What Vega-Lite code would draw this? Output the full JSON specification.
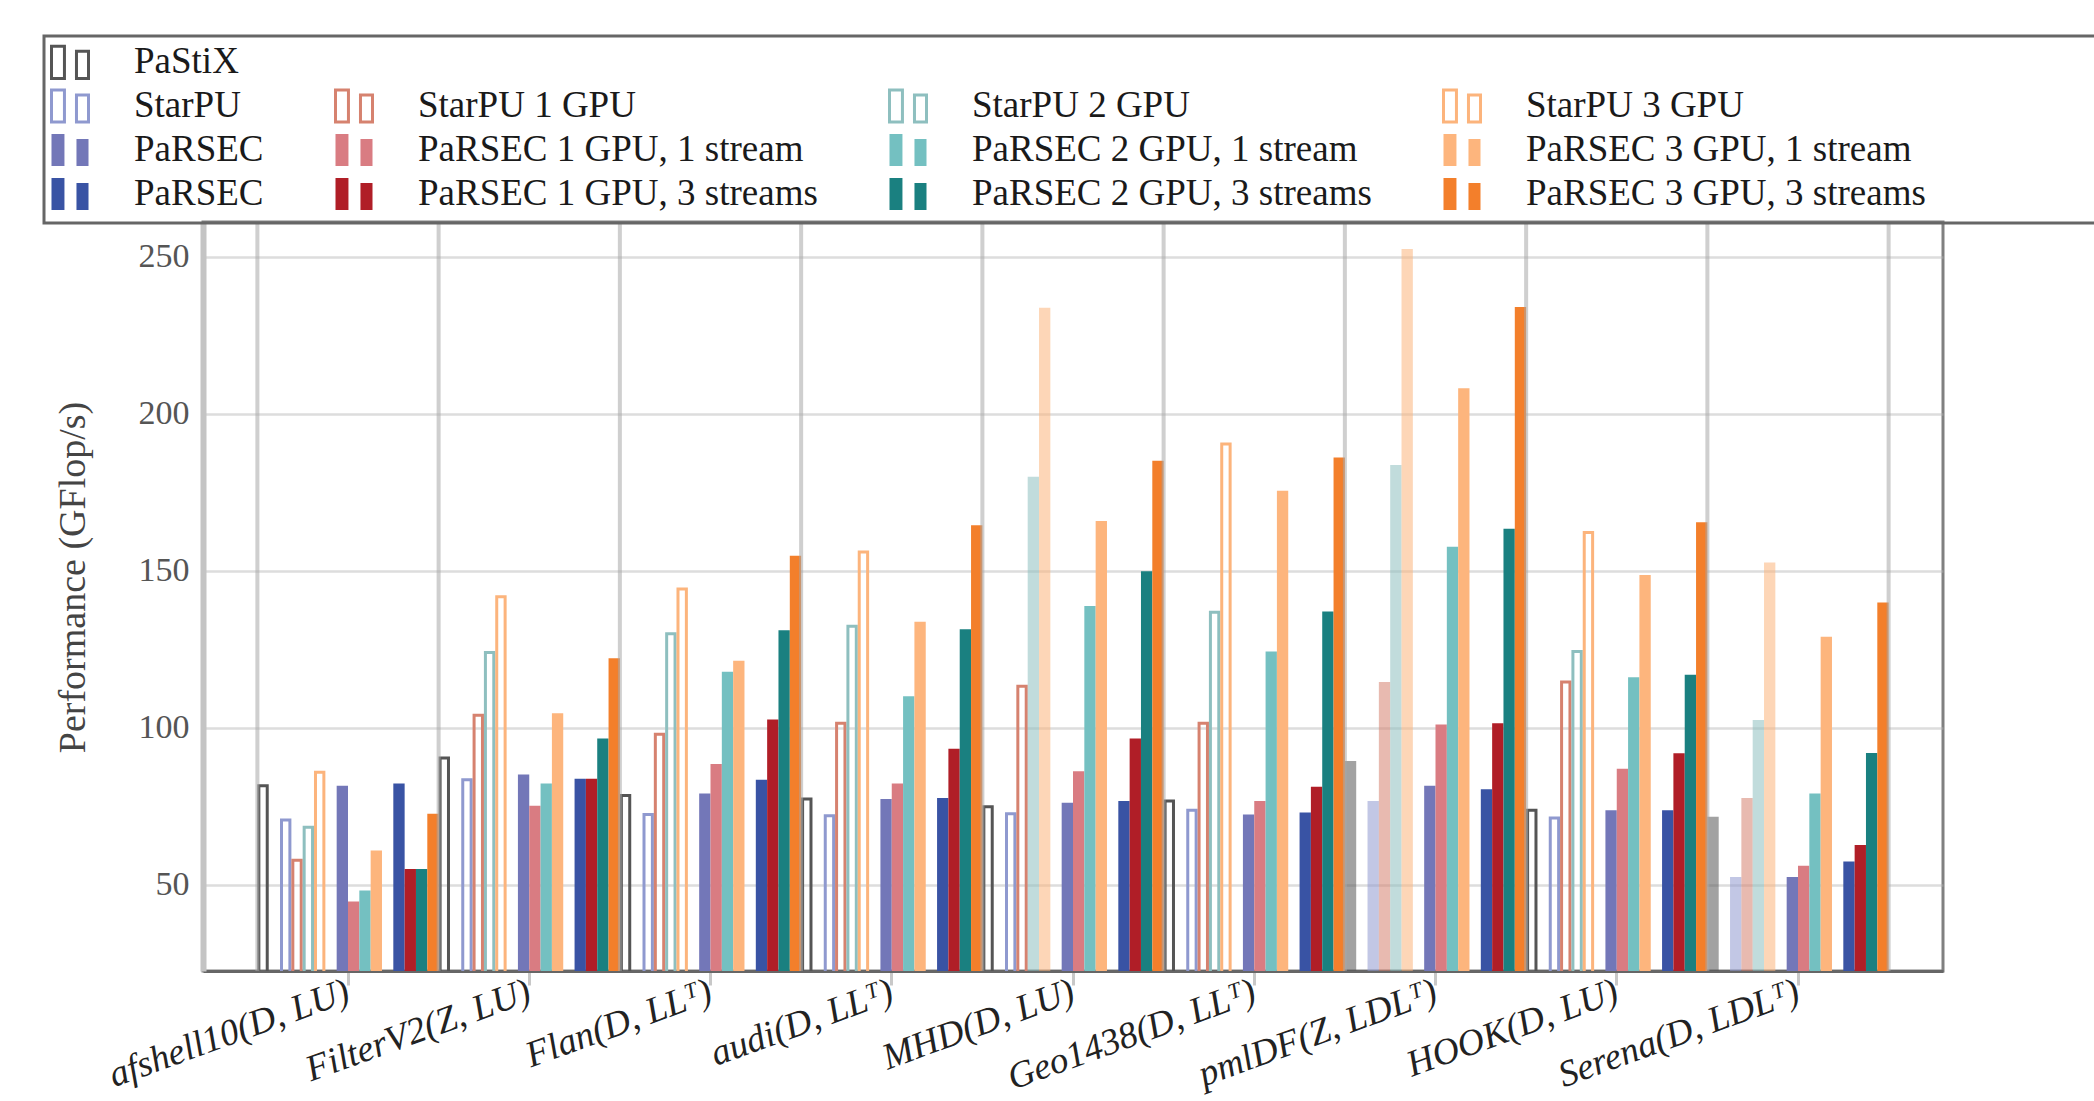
{
  "$schema": "https://vega.github.io/schema/vega-lite/v6.json",
  "width": 1740,
  "height": 749,
  "autosize": {"type": "none"},
  "padding": {"left": 203, "top": 222, "right": 151, "bottom": 130},
  "background": "white",
  "datasets": {
    "bars": [
      {"m": "afshell10(D, LU)", "s": "PaStiX", "v": 81.5},
      {"m": "afshell10(D, LU)", "s": "StarPU", "v": 70.6},
      {"m": "afshell10(D, LU)", "s": "StarPU 1 GPU", "v": 57.8},
      {"m": "afshell10(D, LU)", "s": "StarPU 2 GPU", "v": 68.3},
      {"m": "afshell10(D, LU)", "s": "StarPU 3 GPU", "v": 85.8},
      {"m": "afshell10(D, LU)", "s": "PaRSEC, 1 stream", "v": 81.5},
      {"m": "afshell10(D, LU)", "s": "PaRSEC 1 GPU, 1 stream", "v": 44.6},
      {"m": "afshell10(D, LU)", "s": "PaRSEC 2 GPU, 1 stream", "v": 48.1},
      {"m": "afshell10(D, LU)", "s": "PaRSEC 3 GPU, 1 stream", "v": 60.9},
      {"m": "afshell10(D, LU)", "s": "PaRSEC, 3 streams", "v": 82.2},
      {"m": "afshell10(D, LU)", "s": "PaRSEC 1 GPU, 3 streams", "v": 55.0},
      {"m": "afshell10(D, LU)", "s": "PaRSEC 2 GPU, 3 streams", "v": 55.0},
      {"m": "afshell10(D, LU)", "s": "PaRSEC 3 GPU, 3 streams", "v": 72.6},
      {"m": "FilterV2(Z, LU)", "s": "PaStiX", "v": 90.3},
      {"m": "FilterV2(Z, LU)", "s": "StarPU", "v": 83.4},
      {"m": "FilterV2(Z, LU)", "s": "StarPU 1 GPU", "v": 103.9},
      {"m": "FilterV2(Z, LU)", "s": "StarPU 2 GPU", "v": 123.9},
      {"m": "FilterV2(Z, LU)", "s": "StarPU 3 GPU", "v": 141.7},
      {"m": "FilterV2(Z, LU)", "s": "PaRSEC, 1 stream", "v": 85.1},
      {"m": "FilterV2(Z, LU)", "s": "PaRSEC 1 GPU, 1 stream", "v": 75.1},
      {"m": "FilterV2(Z, LU)", "s": "PaRSEC 2 GPU, 1 stream", "v": 82.2},
      {"m": "FilterV2(Z, LU)", "s": "PaRSEC 3 GPU, 1 stream", "v": 104.6},
      {"m": "FilterV2(Z, LU)", "s": "PaRSEC, 3 streams", "v": 83.7},
      {"m": "FilterV2(Z, LU)", "s": "PaRSEC 1 GPU, 3 streams", "v": 83.7},
      {"m": "FilterV2(Z, LU)", "s": "PaRSEC 2 GPU, 3 streams", "v": 96.5},
      {"m": "FilterV2(Z, LU)", "s": "PaRSEC 3 GPU, 3 streams", "v": 122.1},
      {"m": "Flan(D, LLᵀ)", "s": "PaStiX", "v": 78.4},
      {"m": "Flan(D, LLᵀ)", "s": "StarPU", "v": 72.3},
      {"m": "Flan(D, LLᵀ)", "s": "StarPU 1 GPU", "v": 97.9},
      {"m": "Flan(D, LLᵀ)", "s": "StarPU 2 GPU", "v": 129.9},
      {"m": "Flan(D, LLᵀ)", "s": "StarPU 3 GPU", "v": 144.1},
      {"m": "Flan(D, LLᵀ)", "s": "PaRSEC, 1 stream", "v": 79.0},
      {"m": "Flan(D, LLᵀ)", "s": "PaRSEC 1 GPU, 1 stream", "v": 88.4},
      {"m": "Flan(D, LLᵀ)", "s": "PaRSEC 2 GPU, 1 stream", "v": 117.8},
      {"m": "Flan(D, LLᵀ)", "s": "PaRSEC 3 GPU, 1 stream", "v": 121.3},
      {"m": "Flan(D, LLᵀ)", "s": "PaRSEC, 3 streams", "v": 83.4},
      {"m": "Flan(D, LLᵀ)", "s": "PaRSEC 1 GPU, 3 streams", "v": 102.6},
      {"m": "Flan(D, LLᵀ)", "s": "PaRSEC 2 GPU, 3 streams", "v": 131.0},
      {"m": "Flan(D, LLᵀ)", "s": "PaRSEC 3 GPU, 3 streams", "v": 154.7},
      {"m": "audi(D, LLᵀ)", "s": "PaStiX", "v": 77.3},
      {"m": "audi(D, LLᵀ)", "s": "StarPU", "v": 71.9},
      {"m": "audi(D, LLᵀ)", "s": "StarPU 1 GPU", "v": 101.4},
      {"m": "audi(D, LLᵀ)", "s": "StarPU 2 GPU", "v": 132.3},
      {"m": "audi(D, LLᵀ)", "s": "StarPU 3 GPU", "v": 155.9},
      {"m": "audi(D, LLᵀ)", "s": "PaRSEC, 1 stream", "v": 77.3},
      {"m": "audi(D, LLᵀ)", "s": "PaRSEC 1 GPU, 1 stream", "v": 82.2},
      {"m": "audi(D, LLᵀ)", "s": "PaRSEC 2 GPU, 1 stream", "v": 110.0},
      {"m": "audi(D, LLᵀ)", "s": "PaRSEC 3 GPU, 1 stream", "v": 133.7},
      {"m": "audi(D, LLᵀ)", "s": "PaRSEC, 3 streams", "v": 77.6},
      {"m": "audi(D, LLᵀ)", "s": "PaRSEC 1 GPU, 3 streams", "v": 93.3},
      {"m": "audi(D, LLᵀ)", "s": "PaRSEC 2 GPU, 3 streams", "v": 131.3},
      {"m": "audi(D, LLᵀ)", "s": "PaRSEC 3 GPU, 3 streams", "v": 164.4},
      {"m": "MHD(D, LU)", "s": "PaStiX", "v": 74.8},
      {"m": "MHD(D, LU)", "s": "StarPU", "v": 72.6},
      {"m": "MHD(D, LU)", "s": "StarPU 1 GPU", "v": 113.2},
      {"m": "MHD(D, LU)", "s": "StarPU 2 GPU", "v": 179.9, "light": true},
      {"m": "MHD(D, LU)", "s": "StarPU 3 GPU", "v": 233.7, "light": true},
      {"m": "MHD(D, LU)", "s": "PaRSEC, 1 stream", "v": 76.1},
      {"m": "MHD(D, LU)", "s": "PaRSEC 1 GPU, 1 stream", "v": 86.1},
      {"m": "MHD(D, LU)", "s": "PaRSEC 2 GPU, 1 stream", "v": 138.7},
      {"m": "MHD(D, LU)", "s": "PaRSEC 3 GPU, 1 stream", "v": 165.8},
      {"m": "MHD(D, LU)", "s": "PaRSEC, 3 streams", "v": 76.6},
      {"m": "MHD(D, LU)", "s": "PaRSEC 1 GPU, 3 streams", "v": 96.5},
      {"m": "MHD(D, LU)", "s": "PaRSEC 2 GPU, 3 streams", "v": 149.8},
      {"m": "MHD(D, LU)", "s": "PaRSEC 3 GPU, 3 streams", "v": 185.0},
      {"m": "Geo1438(D, LLᵀ)", "s": "PaStiX", "v": 76.6},
      {"m": "Geo1438(D, LLᵀ)", "s": "StarPU", "v": 73.7},
      {"m": "Geo1438(D, LLᵀ)", "s": "StarPU 1 GPU", "v": 101.4},
      {"m": "Geo1438(D, LLᵀ)", "s": "StarPU 2 GPU", "v": 136.7},
      {"m": "Geo1438(D, LLᵀ)", "s": "StarPU 3 GPU", "v": 190.3},
      {"m": "Geo1438(D, LLᵀ)", "s": "PaRSEC, 1 stream", "v": 72.3},
      {"m": "Geo1438(D, LLᵀ)", "s": "PaRSEC 1 GPU, 1 stream", "v": 76.6},
      {"m": "Geo1438(D, LLᵀ)", "s": "PaRSEC 2 GPU, 1 stream", "v": 124.2},
      {"m": "Geo1438(D, LLᵀ)", "s": "PaRSEC 3 GPU, 1 stream", "v": 175.4},
      {"m": "Geo1438(D, LLᵀ)", "s": "PaRSEC, 3 streams", "v": 73.0},
      {"m": "Geo1438(D, LLᵀ)", "s": "PaRSEC 1 GPU, 3 streams", "v": 81.2},
      {"m": "Geo1438(D, LLᵀ)", "s": "PaRSEC 2 GPU, 3 streams", "v": 137.0},
      {"m": "Geo1438(D, LLᵀ)", "s": "PaRSEC 3 GPU, 3 streams", "v": 186.0},
      {"m": "pmlDF(Z, LDLᵀ)", "s": "PaStiX", "v": 89.4, "light": true},
      {"m": "pmlDF(Z, LDLᵀ)", "s": "StarPU", "v": 76.6, "light": true},
      {"m": "pmlDF(Z, LDLᵀ)", "s": "StarPU 1 GPU", "v": 114.5, "light": true},
      {"m": "pmlDF(Z, LDLᵀ)", "s": "StarPU 2 GPU", "v": 183.6, "light": true},
      {"m": "pmlDF(Z, LDLᵀ)", "s": "StarPU 3 GPU", "v": 252.4, "light": true},
      {"m": "pmlDF(Z, LDLᵀ)", "s": "PaRSEC, 1 stream", "v": 81.5},
      {"m": "pmlDF(Z, LDLᵀ)", "s": "PaRSEC 1 GPU, 1 stream", "v": 101.0},
      {"m": "pmlDF(Z, LDLᵀ)", "s": "PaRSEC 2 GPU, 1 stream", "v": 157.6},
      {"m": "pmlDF(Z, LDLᵀ)", "s": "PaRSEC 3 GPU, 1 stream", "v": 208.1},
      {"m": "pmlDF(Z, LDLᵀ)", "s": "PaRSEC, 3 streams", "v": 80.4},
      {"m": "pmlDF(Z, LDLᵀ)", "s": "PaRSEC 1 GPU, 3 streams", "v": 101.4},
      {"m": "pmlDF(Z, LDLᵀ)", "s": "PaRSEC 2 GPU, 3 streams", "v": 163.3},
      {"m": "pmlDF(Z, LDLᵀ)", "s": "PaRSEC 3 GPU, 3 streams", "v": 233.9},
      {"m": "HOOK(D, LU)", "s": "PaStiX", "v": 73.7},
      {"m": "HOOK(D, LU)", "s": "StarPU", "v": 71.2},
      {"m": "HOOK(D, LU)", "s": "StarPU 1 GPU", "v": 114.5},
      {"m": "HOOK(D, LU)", "s": "StarPU 2 GPU", "v": 124.2},
      {"m": "HOOK(D, LU)", "s": "StarPU 3 GPU", "v": 162.1},
      {"m": "HOOK(D, LU)", "s": "PaRSEC, 1 stream", "v": 73.7},
      {"m": "HOOK(D, LU)", "s": "PaRSEC 1 GPU, 1 stream", "v": 86.9},
      {"m": "HOOK(D, LU)", "s": "PaRSEC 2 GPU, 1 stream", "v": 116.0},
      {"m": "HOOK(D, LU)", "s": "PaRSEC 3 GPU, 1 stream", "v": 148.6},
      {"m": "HOOK(D, LU)", "s": "PaRSEC, 3 streams", "v": 73.7},
      {"m": "HOOK(D, LU)", "s": "PaRSEC 1 GPU, 3 streams", "v": 91.8},
      {"m": "HOOK(D, LU)", "s": "PaRSEC 2 GPU, 3 streams", "v": 116.8},
      {"m": "HOOK(D, LU)", "s": "PaRSEC 3 GPU, 3 streams", "v": 165.4},
      {"m": "Serena(D, LDLᵀ)", "s": "PaStiX", "v": 71.6, "light": true},
      {"m": "Serena(D, LDLᵀ)", "s": "StarPU", "v": 52.4, "light": true},
      {"m": "Serena(D, LDLᵀ)", "s": "StarPU 1 GPU", "v": 77.6, "light": true},
      {"m": "Serena(D, LDLᵀ)", "s": "StarPU 2 GPU", "v": 102.4, "light": true},
      {"m": "Serena(D, LDLᵀ)", "s": "StarPU 3 GPU", "v": 152.6, "light": true},
      {"m": "Serena(D, LDLᵀ)", "s": "PaRSEC, 1 stream", "v": 52.4},
      {"m": "Serena(D, LDLᵀ)", "s": "PaRSEC 1 GPU, 1 stream", "v": 56.0},
      {"m": "Serena(D, LDLᵀ)", "s": "PaRSEC 2 GPU, 1 stream", "v": 79.0},
      {"m": "Serena(D, LDLᵀ)", "s": "PaRSEC 3 GPU, 1 stream", "v": 128.9},
      {"m": "Serena(D, LDLᵀ)", "s": "PaRSEC, 3 streams", "v": 57.4},
      {"m": "Serena(D, LDLᵀ)", "s": "PaRSEC 1 GPU, 3 streams", "v": 62.6},
      {"m": "Serena(D, LDLᵀ)", "s": "PaRSEC 2 GPU, 3 streams", "v": 91.9},
      {"m": "Serena(D, LDLᵀ)", "s": "PaRSEC 3 GPU, 3 streams", "v": 139.8}
    ],
    "groups": [
      {"m": "afshell10(D, LU)"}, {"m": "FilterV2(Z, LU)"}, {"m": "Flan(D, LLᵀ)"},
      {"m": "audi(D, LLᵀ)"}, {"m": "MHD(D, LU)"}, {"m": "Geo1438(D, LLᵀ)"},
      {"m": "pmlDF(Z, LDLᵀ)"}, {"m": "HOOK(D, LU)"}, {"m": "Serena(D, LDLᵀ)"}
    ]
  },
  "layer": [
    {
      "data": {"name": "bars"},
      "resolve": {"scale": {"xOffset": "independent"}},
      "encoding": {
        "x": {
          "field": "m", "type": "nominal", "sort": null,
          "scale": {"domain": ["afshell10(D, LU)", "FilterV2(Z, LU)", "Flan(D, LLᵀ)", "audi(D, LLᵀ)", "MHD(D, LU)", "Geo1438(D, LLᵀ)", "pmlDF(Z, LDLᵀ)", "HOOK(D, LU)", "Serena(D, LDLᵀ)"], "paddingInner": 0, "paddingOuter": 0.3},
          "axis": {"title": null}
        },
        "xOffset": {
          "field": "s", "type": "nominal",
          "scale": {"domain": ["PaStiX", "gap1", "StarPU", "StarPU 1 GPU", "StarPU 2 GPU", "StarPU 3 GPU", "gap2", "PaRSEC, 1 stream", "PaRSEC 1 GPU, 1 stream", "PaRSEC 2 GPU, 1 stream", "PaRSEC 3 GPU, 1 stream", "gap3", "PaRSEC, 3 streams", "PaRSEC 1 GPU, 3 streams", "PaRSEC 2 GPU, 3 streams", "PaRSEC 3 GPU, 3 streams"], "paddingInner": 0, "paddingOuter": 0}
        },
        "y": {
          "field": "v", "type": "quantitative",
          "scale": {"domain": [22.5, 261], "nice": false, "zero": false},
          "axis": {"title": "Performance (GFlop/s)", "values": [50, 100, 150, 200, 250]}
        }
      },
      "layer": [
        {
          "transform": [{"filter": "indexof(['PaStiX','StarPU','StarPU 1 GPU','StarPU 2 GPU','StarPU 3 GPU'], datum.s) >= 0 && !datum.light"}],
          "mark": {"type": "bar", "filled": false, "strokeWidth": 3, "clip": true, "opacity": 1},
          "encoding": {
            "xOffset": {
              "field": "s", "type": "nominal",
              "scale": {"domain": ["PaStiX", "gap1", "StarPU", "StarPU 1 GPU", "StarPU 2 GPU", "StarPU 3 GPU", "gap2", "PaRSEC, 1 stream", "PaRSEC 1 GPU, 1 stream", "PaRSEC 2 GPU, 1 stream", "PaRSEC 3 GPU, 1 stream", "gap3", "PaRSEC, 3 streams", "PaRSEC 1 GPU, 3 streams", "PaRSEC 2 GPU, 3 streams", "PaRSEC 3 GPU, 3 streams"], "paddingInner": 0.26, "paddingOuter": 0.13}
            },
            "stroke": {
              "field": "s", "type": "nominal",
              "scale": {
                "domain": ["PaStiX", "blank1", "blank2", "blank3", "StarPU", "StarPU 1 GPU", "StarPU 2 GPU", "StarPU 3 GPU", "PaRSEC, 1 stream", "PaRSEC 1 GPU, 1 stream", "PaRSEC 2 GPU, 1 stream", "PaRSEC 3 GPU, 1 stream", "PaRSEC, 3 streams", "PaRSEC 1 GPU, 3 streams", "PaRSEC 2 GPU, 3 streams", "PaRSEC 3 GPU, 3 streams"],
                "range": ["#555555", "transparent", "transparent", "transparent", "#8f99cf", "#d6826f", "#8ebfbf", "#fcb47c", "transparent", "transparent", "transparent", "transparent", "transparent", "transparent", "transparent", "transparent"]
              },
              "legend": {
                "orient": "none", "legendX": -159, "legendY": -186,
                "columns": 4, "direction": "horizontal",
                "title": "\u00a0", "titleOrient": "right", "titlePadding": 196,
                "symbolType": "M-1,-0.87H-0.3V0.87H-1Z M0.35,-0.6H1V0.87H0.35Z",
                "symbolSize": 1369, "symbolStrokeWidth": 3,
                "labelFontSize": 37, "labelColor": "#1a1a1a", "labelLimit": 1000, "labelOffset": 44,
                "labelExpr": "datum.value === 'PaRSEC, 1 stream' || datum.value === 'PaRSEC, 3 streams' ? 'PaRSEC' : (indexof(datum.value, 'blank') === 0 ? '' : datum.label)",
                "rowPadding": -2, "columnPadding": 65, "padding": 6,
                "strokeColor": "#666666"
              }
            }
          }
        },
        {
          "transform": [{"filter": "indexof(datum.s, 'PaRSEC') === 0"}],
          "mark": {"type": "bar", "clip": true, "opacity": 1},
          "encoding": {
            "fill": {
              "field": "s", "type": "nominal",
              "scale": {
                "domain": ["PaStiX", "blank1", "blank2", "blank3", "StarPU", "StarPU 1 GPU", "StarPU 2 GPU", "StarPU 3 GPU", "PaRSEC, 1 stream", "PaRSEC 1 GPU, 1 stream", "PaRSEC 2 GPU, 1 stream", "PaRSEC 3 GPU, 1 stream", "PaRSEC, 3 streams", "PaRSEC 1 GPU, 3 streams", "PaRSEC 2 GPU, 3 streams", "PaRSEC 3 GPU, 3 streams"],
                "range": ["#ffffff", "transparent", "transparent", "transparent", "#ffffff", "#ffffff", "#ffffff", "#ffffff", "#7377b8", "#d97c82", "#74c0c1", "#fdb57d", "#3953a4", "#b01e27", "#1a8080", "#f37f2b"]
              },
              "legend": {
                "orient": "none", "legendX": -159, "legendY": -186,
                "columns": 4, "direction": "horizontal",
                "title": "\u00a0", "titleOrient": "right", "titlePadding": 196,
                "symbolType": "M-1,-0.87H-0.3V0.87H-1Z M0.35,-0.6H1V0.87H0.35Z",
                "symbolSize": 1369, "symbolStrokeWidth": 3,
                "labelFontSize": 37, "labelColor": "#1a1a1a", "labelLimit": 1000, "labelOffset": 44,
                "labelExpr": "datum.value === 'PaRSEC, 1 stream' || datum.value === 'PaRSEC, 3 streams' ? 'PaRSEC' : (indexof(datum.value, 'blank') === 0 ? '' : datum.label)",
                "rowPadding": -2, "columnPadding": 65, "padding": 6,
                "strokeColor": "#666666"
              }
            }
          }
        },
        {
          "transform": [{"filter": "datum.light === true"}],
          "mark": {"type": "bar", "clip": true, "fillOpacity": 0.55},
          "encoding": {
            "color": {
              "field": "s", "type": "nominal",
              "scale": {
                "domain": ["PaStiX", "StarPU", "StarPU 1 GPU", "StarPU 2 GPU", "StarPU 3 GPU"],
                "range": ["#555555", "#8f99cf", "#d6826f", "#8ebfbf", "#fcb47c"]
              },
              "legend": null
            }
          }
        }
      ]
    },
    {
      "data": {"name": "groups"},
      "mark": {"type": "rule", "color": "#a8a8a8", "strokeWidth": 4, "opacity": 0.55},
      "encoding": {
        "x": {
          "field": "m", "type": "nominal", "sort": null, "bandPosition": 0,
          "scale": {"domain": ["afshell10(D, LU)", "FilterV2(Z, LU)", "Flan(D, LLᵀ)", "audi(D, LLᵀ)", "MHD(D, LU)", "Geo1438(D, LLᵀ)", "pmlDF(Z, LDLᵀ)", "HOOK(D, LU)", "Serena(D, LDLᵀ)"], "paddingInner": 0, "paddingOuter": 0.3},
          "axis": {"title": null}
        }
      }
    },
    {
      "data": {"name": "groups"},
      "transform": [{"filter": "datum.m === 'Serena(D, LDLᵀ)'"}],
      "mark": {"type": "rule", "color": "#a8a8a8", "strokeWidth": 4, "opacity": 0.55},
      "encoding": {
        "x": {
          "field": "m", "type": "nominal", "sort": null, "bandPosition": 1,
          "scale": {"domain": ["afshell10(D, LU)", "FilterV2(Z, LU)", "Flan(D, LLᵀ)", "audi(D, LLᵀ)", "MHD(D, LU)", "Geo1438(D, LLᵀ)", "pmlDF(Z, LDLᵀ)", "HOOK(D, LU)", "Serena(D, LDLᵀ)"], "paddingInner": 0, "paddingOuter": 0.3},
          "axis": {"title": null}
        }
      }
    }
  ],
  "config": {
    "font": "Liberation Serif",
    "view": {"stroke": "#808080", "strokeWidth": 3},
    "legend": {"strokeWidth": 3},
    "axisX": {
      "labelAngle": -20, "labelFontSize": 37, "labelFontStyle": "italic", "labelColor": "#222222",
      "labelLimit": 600, "labelOverlap": false, "labelBound": false, "labelPadding": -12, "labelOffset": -6,
      "tickColor": "#c8c8c8", "tickSize": 14, "tickWidth": 3,
      "domainColor": "#666666", "domainWidth": 3, "grid": false
    },
    "axisY": {
      "labelFontSize": 34, "labelColor": "#555555", "labelPadding": 14,
      "ticks": false, "tickSize": 0,
      "domainColor": "#c4c4c4", "domainWidth": 6,
      "grid": true, "gridColor": "#b4b4b4", "gridOpacity": 0.45, "gridWidth": 2.5, "zindex": 1,
      "titleFontSize": 38, "titleFontWeight": "normal", "titleColor": "#444444",
      "titleX": -119, "titleY": 355, "titleAngle": -90, "titleAlign": "center", "titleBaseline": "alphabetic"
    }
  }
}
